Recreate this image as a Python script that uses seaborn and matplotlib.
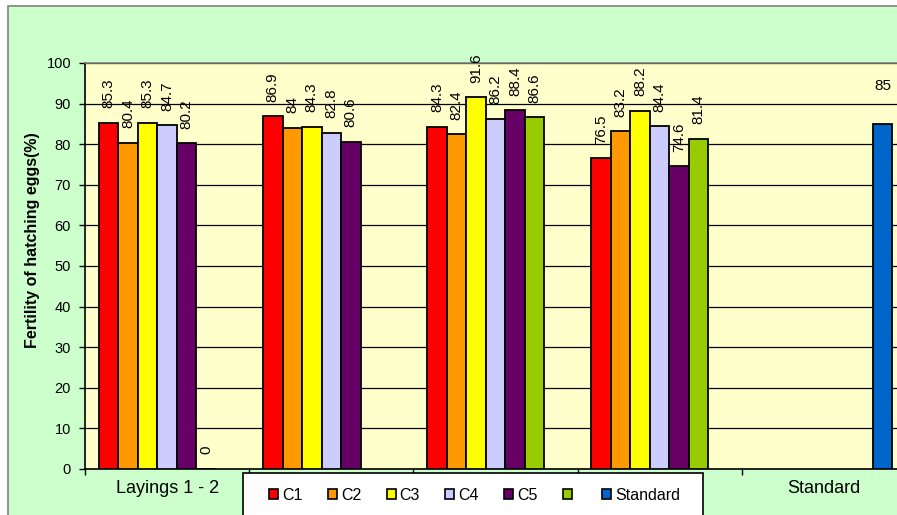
import matplotlib
matplotlib.use("Agg")
import matplotlib.pyplot as plt
from matplotlib.patches import Rectangle, Patch
from matplotlib.ticker import MultipleLocator, FixedLocator
import seaborn as sns
import pandas as pd
import numpy as np

plt.rcParams['font.family'] = ['Liberation Sans', 'DejaVu Sans']

# ---- data ----
groups = ["G1", "G2", "G3", "G4", "G5"]
group_labels = ["Layings 1 - 2", "", "", "", "Standard"]
series = ["C1", "C2", "C3", "C4", "C5", "S6", "Standard"]
series_labels = ["C1", "C2", "C3", "C4", "C5", "", "Standard"]
c1 = [85.3, 86.9, 84.3, 76.5, None]
c2 = [80.4, 84.0, 82.4, 83.2, None]
c3 = [85.3, 84.3, 91.6, 88.2, None]
c4 = [84.7, 82.8, 86.2, 84.4, None]
c5 = [80.2, 80.6, 88.4, 74.6, None]
s6 = [0.0, None, 86.6, 81.4, None]
standard = [None, None, None, None, 85.0]
colors = ["#FF0000", "#FF9900", "#FFFF00", "#CCCCFF", "#660066", "#99CC00", "#0066CC"]

rows = []
for name, vals in zip(series, [c1, c2, c3, c4, c5, s6, standard]):
    for g, v in zip(groups, vals):
        if v is not None:
            rows.append({"group": g, "series": name, "value": v})
df = pd.DataFrame(rows)

W, H = 897, 515
fig = plt.figure(figsize=(W / 100, H / 100), dpi=100)
fig.patch.set_facecolor("white")

# outer chart frame (light green)
fig.add_artist(Rectangle((8 / W, -0.2), 1.2, 1.2 - 6 / H + 0.0, transform=fig.transFigure,
                         facecolor="#CCFFCC", edgecolor="#808080", linewidth=1.2, zorder=-5))

ax_l, ax_r, ax_t, ax_b = 85, 906, 63, 469
ax = fig.add_axes([ax_l / W, 1 - ax_b / H, (ax_r - ax_l) / W, (ax_b - ax_t) / H])
ax.set_facecolor("#FFFFCC")

sns.barplot(data=df, x="group", y="value", hue="series", order=groups, hue_order=series,
            palette=dict(zip(series, colors)), saturation=1, width=0.832, dodge=True,
            edgecolor="black", linewidth=1.3, errorbar=None, legend=False, ax=ax, zorder=3)

# value labels
for name, cont in zip(series, ax.containers):
    labels = [f"{v:g}" for v in cont.datavalues]
    if name == "Standard":
        ax.bar_label(cont, labels=labels, rotation=0, padding=22, fontsize=11)
    else:
        ax.bar_label(cont, labels=labels, rotation=90, padding=10.5, fontsize=11)

ax.set_xlim(-0.5, 4.5)
ax.set_ylim(0, 100)
ax.yaxis.set_major_locator(MultipleLocator(10))
ax.grid(axis="y", color="black", linewidth=0.9, zorder=1)
ax.set_axisbelow(True)

ax.set_xticks(range(len(groups)))
ax.set_xticklabels(group_labels, fontsize=13)
ax.xaxis.set_minor_locator(FixedLocator([-0.5, 0.5, 1.5, 2.5, 3.5, 4.5]))
ax.tick_params(axis="x", which="major", length=0, pad=8)
ax.tick_params(axis="x", which="minor", length=4, width=1, color="black", direction="out")
ax.tick_params(axis="y", which="major", length=4, width=1, direction="out", pad=6, labelsize=10.5)

ax.set_xlabel("")
ax.set_ylabel("")
for s in ["left", "bottom"]:
    ax.spines[s].set_color("black")
    ax.spines[s].set_linewidth(1.2)
ax.spines["top"].set_color("#808080")
ax.spines["top"].set_linewidth(1.2)
ax.spines["right"].set_visible(False)

fig.text(33 / W, 1 - 240 / H, "Fertility of hatching eggs(%)", rotation=90, fontsize=11.5,
         fontweight="bold", ha="center", va="center")

# legend box
fig.add_artist(Rectangle((243 / W, -0.1), (703 - 243) / W, 0.1 + 1 - 473 / H,
                         transform=fig.transFigure, facecolor="white", edgecolor="black",
                         linewidth=1.2, zorder=4))
handles = [Patch(facecolor=c, edgecolor="black", linewidth=1.2) for c in colors]
fig.legend(handles, series_labels, loc="center left", bbox_to_anchor=(269 / W, 1 - 495 / H),
           bbox_transform=fig.transFigure, ncol=7, frameon=False, fontsize=11.5,
           handlelength=0.56, handleheight=0.56, handletextpad=0.25, columnspacing=1.6,
           borderpad=0, borderaxespad=0).set_zorder(6)

fig.savefig("out.png", dpi=100)
